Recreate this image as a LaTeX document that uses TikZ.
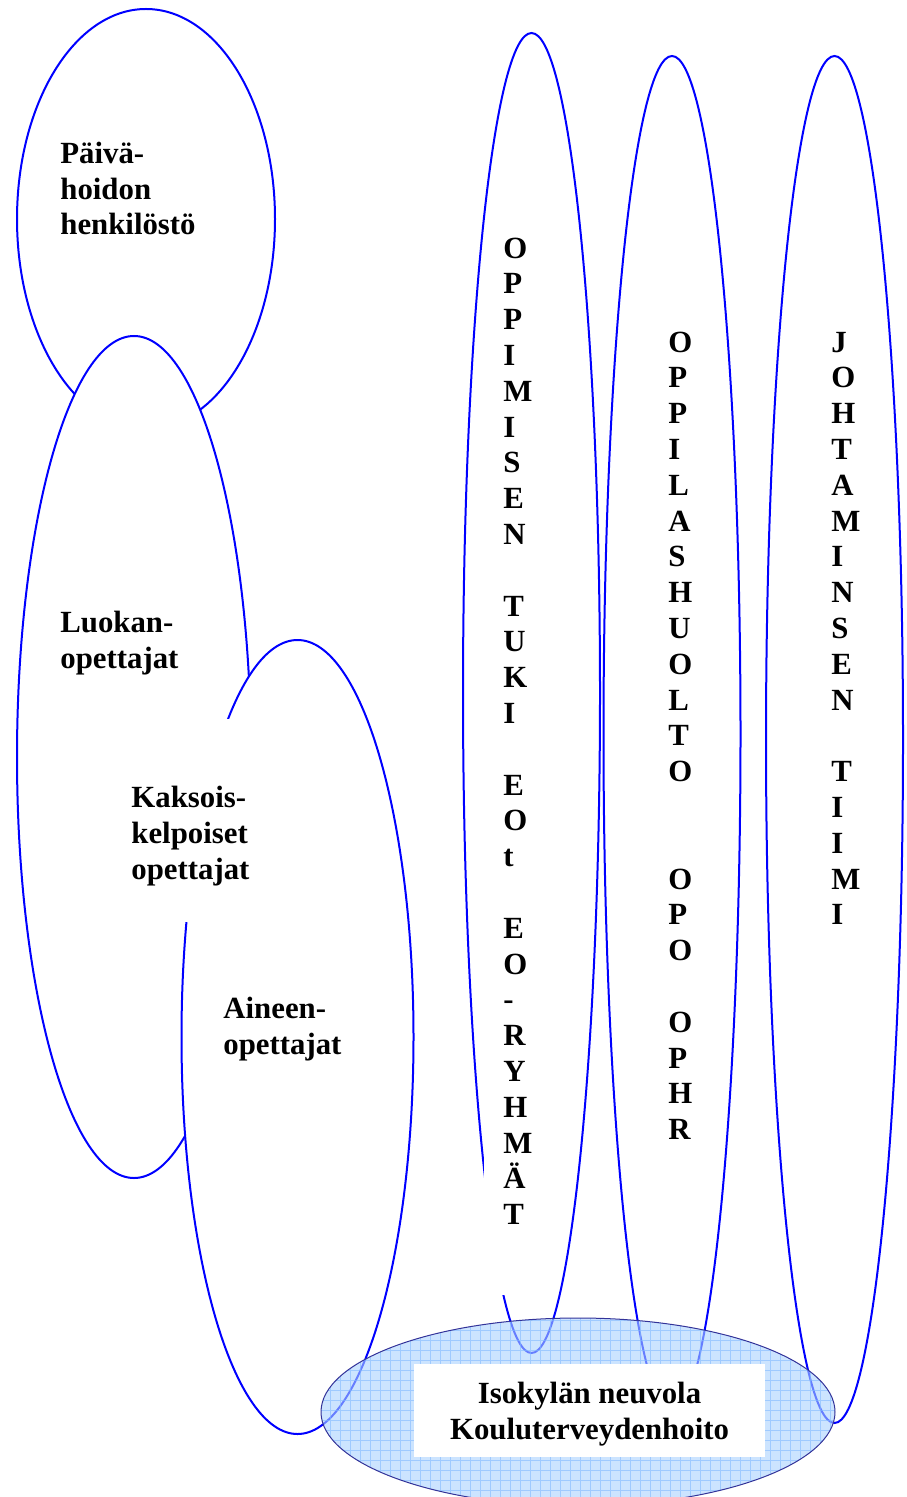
\documentclass[tikz,border=0pt]{standalone}
\usepackage{fontspec}
\setmainfont{Liberation Serif}
\usepackage{xcolor}
\usetikzlibrary{positioning,shapes.geometric}
\definecolor{lineblue}{RGB}{0,0,255}
\definecolor{paleblue}{RGB}{170,210,255}
\definecolor{gridblue}{RGB}{130,185,255}
\definecolor{rimblue}{RGB}{51,51,153}

\begin{document}
\begin{tikzpicture}[x=0.5pt, y=-0.5pt,
  bubble/.style={ellipse, draw=lineblue, line width=1pt, inner sep=0pt},
  caption/.style={font=\bfseries\fontsize{15.4}{17.9}\selectfont, align=left, inner sep=0pt, anchor=base west}]
  \useasboundingbox (0,0) rectangle (906,1497);

  \node[bubble, fill=white, minimum width=129pt, minimum height=210pt] (paiva) at (146,219) {};
  \node[bubble, fill=white, minimum width=117pt, minimum height=421pt] (luokka) at (134,757) {};
  \node[bubble, fill=white, minimum width=116pt, minimum height=397pt] (aine) at (297.5,1037) {};

  \node[caption] (paivatxt) at (60,235) {Päivä-\\hoidon\\henkilöstö};
  \node[caption] (luokkatxt) at (60,668) {Luokan-\\opettajat};
  \fill[white] (110,719) rectangle (290,922);
  \node[caption] (kaksoistxt) at (131,879) {Kaksois-\\kelpoiset\\opettajat};
  \node[caption] (ainetxt) at (223,1054) {Aineen-\\opettajat};

  \node[bubble, minimum width=68.5pt, minimum height=660pt] (tuki) at (531.5,693) {};
  \node[bubble, minimum width=68.5pt, minimum height=678pt] (huolto) at (672,734) {};
  \node[bubble, minimum width=68.5pt, minimum height=683.5pt] (johto) at (834.5,739.5) {};

  \fill[white] (484,245) rectangle (545,1295);
  \node[caption] (tukitxt) at (503,1224.6) {O\\P\\P\\I\\M\\I\\S\\E\\N\\~\\T\\U\\K\\I\\~\\E\\O\\t\\~\\E\\O\\-\\R\\Y\\H\\M\\Ä\\T};
  \node[caption] (huoltotxt) at (668,1139.6) {O\\P\\P\\I\\L\\A\\S\\H\\U\\O\\L\\T\\O\\~\\~\\O\\P\\O\\~\\O\\P\\H\\R};
  \node[caption] (johtotxt) at (831,924.8) {J\\O\\H\\T\\A\\M\\I\\N\\S\\E\\N\\~\\T\\I\\I\\M\\I};

  \node[ellipse, inner sep=0pt, fill=paleblue, fill opacity=0.6, minimum width=257pt, minimum height=94pt] (neuvola) at (578,1412) {};
  \begin{scope}
    \clip (578,1412) ellipse [x radius=257, y radius=94];
    \draw[gridblue, line width=0.4pt, opacity=0.6, step=5pt] (300,1300) grid (860,1520);
  \end{scope}
  \draw[rimblue, line width=0.5pt] (neuvola.center) ellipse [x radius=257, y radius=94];

  \node[fill=white, inner sep=0pt, minimum width=175.5pt, minimum height=46.5pt] (neuvolabox) at (589.5,1410.5) {};
  \node[caption, align=center, anchor=base] (neuvolatxt) at (neuvolabox.center |- 0,1439) {Isokylän neuvola\\Kouluterveydenhoito};
\end{tikzpicture}
\end{document}
